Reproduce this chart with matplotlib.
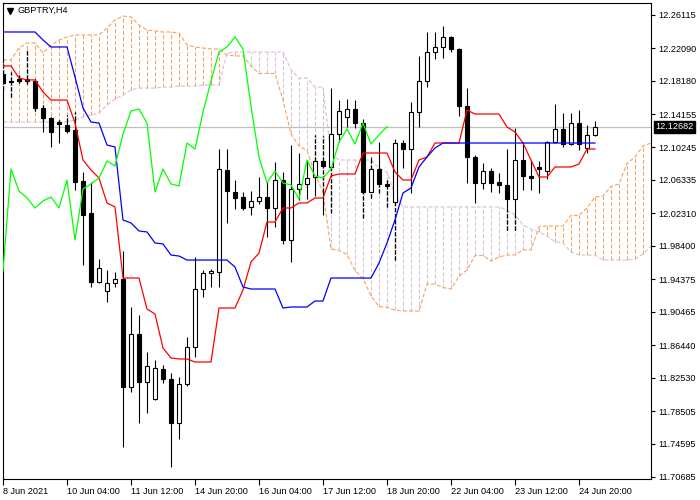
import matplotlib
matplotlib.use("Agg")
import matplotlib.pyplot as plt
import matplotlib.transforms as mtransforms
from matplotlib.patches import Rectangle

plt.rcParams["font.family"] = ["Liberation Sans", "DejaVu Sans"]
plt.rcParams["lines.scale_dashes"] = False

# ---- GBPTRY H4 candles (bar 0 = 8 Jun 2021 20:00) ----
opens = [12.1902, 12.1818, 12.1842, 12.1842, 12.1818, 12.1493, 12.1373, 12.1325, 12.1289, 12.1229,
         12.0617, 12.0233, 11.9404, 11.9296, 11.9392, 11.9440, 11.8144, 11.8780, 11.8204, 11.8000,
         11.8360, 11.8240, 11.7711, 11.8180, 11.8624, 11.9320, 11.9512, 11.9524, 12.0749, 12.0485,
         12.0425, 12.0305, 12.0377, 12.0425, 12.0293, 12.0629, 11.9909, 12.0521, 12.0581, 12.0665,
         12.0857, 12.0785, 12.1181, 12.1385, 12.1481, 12.1313, 12.0485, 12.0761, 12.0581, 12.0365,
         12.1073, 12.1001, 12.1445, 12.1818, 12.2166, 12.2226, 12.2346, 12.2202, 12.1517, 12.0905,
         12.0593, 12.0737, 12.0605, 12.0569, 12.0401, 12.0869, 12.0677, 12.0785, 12.0737, 12.1085,
         12.1241, 12.1061, 12.1313, 12.1013, 12.1169]
highs = [12.2034, 12.1926, 12.1914, 12.2190, 12.1842, 12.1529, 12.1385, 12.1349, 12.1409, 12.1445,
         12.0725, 12.0605, 11.9680, 11.9548, 11.9524, 11.9776, 11.9104, 11.9008, 11.8564, 11.8468,
         11.8408, 11.8312, 11.8264, 11.8744, 11.9704, 11.9548, 11.9560, 12.1001, 12.1001, 12.0629,
         12.0485, 12.0497, 12.0665, 12.0605, 12.0845, 12.0725, 12.1049, 12.0953, 12.0869, 12.1169,
         12.1157, 12.1733, 12.1589, 12.1601, 12.1589, 12.1361, 12.0905, 12.1085, 12.0653, 12.1121,
         12.1109, 12.1565, 12.2118, 12.2406, 12.2406, 12.2478, 12.2358, 12.2214, 12.1733, 12.0929,
         12.0833, 12.0773, 12.0713, 12.1001, 12.1253, 12.1085, 12.0857, 12.0857, 12.1097, 12.1541,
         12.1433, 12.1433, 12.1469, 12.1289, 12.1337]
lows = [12.1709, 12.1625, 12.1794, 12.1781, 12.1457, 12.1205, 12.1025, 12.1073, 12.1193, 12.0509,
        11.9608, 11.9344, 11.9392, 11.9164, 11.9344, 11.7423, 11.8084, 11.7711, 11.7832, 11.7988,
        11.8192, 11.7183, 11.7519, 11.8156, 11.8504, 11.9224, 11.9344, 11.9344, 12.0113, 12.0281,
        12.0269, 12.0209, 12.0341, 11.9945, 12.0065, 11.9861, 11.9644, 12.0389, 12.0401, 12.0437,
        12.0209, 12.0233, 12.1085, 12.1265, 12.1253, 12.0173, 12.0413, 12.0473, 12.0305, 11.9668,
        12.0773, 12.0473, 12.1265, 12.1745, 12.2082, 12.2094, 12.2166, 12.1397, 12.0593, 12.0353,
        12.0521, 12.0485, 12.0473, 12.0029, 12.0029, 12.0509, 12.0509, 12.0473, 12.0641, 12.1073,
        12.1025, 12.1049, 12.0989, 12.0953, 12.1157]
closes = [12.1794, 12.1806, 12.1818, 12.1818, 12.1493, 12.1373, 12.1205, 12.1301, 12.1217, 12.0605,
          12.0209, 11.9404, 11.9572, 11.9392, 11.9440, 11.8144, 11.8780, 11.8204, 11.8396, 11.8372,
          11.8240, 11.7711, 11.8180, 11.8624, 11.9320, 11.9512, 11.9536, 12.0761, 12.0497, 12.0413,
          12.0293, 12.0377, 12.0425, 12.0293, 12.0629, 11.9909, 12.0521, 12.0581, 12.0653, 12.0857,
          12.0797, 12.1181, 12.1457, 12.1481, 12.1313, 12.0485, 12.0761, 12.0581, 12.0557, 12.1073,
          12.1001, 12.1445, 12.1818, 12.2166, 12.2226, 12.2346, 12.2202, 12.1517, 12.0905, 12.0593,
          12.0737, 12.0593, 12.0569, 12.0401, 12.0869, 12.0677, 12.0653, 12.0761, 12.1085, 12.1241,
          12.1061, 12.1313, 12.1061, 12.1169, 12.12682]

# ---- Ichimoku lines ----
tenkan = [12.1998, 12.1998, 12.1854, 12.1830, 12.1830, 12.1685, 12.1589, 12.1589, 12.1589, 12.1313,
          12.0869, 12.0749, 12.0653, 12.0353, 12.0305, 11.9452, 11.9452, 11.9452, 11.9080, 11.9020,
          11.8612, 11.8492, 11.8480, 11.8480, 11.8444, 11.8444, 11.8444, 11.9092, 11.9092, 11.9092,
          11.9308, 11.9644, 11.9752, 12.0125, 12.0125, 12.0293, 12.0293, 12.0353, 12.0353, 12.0413,
          12.0413, 12.0677, 12.0701, 12.0701, 12.0701, 12.0953, 12.0953, 12.0953, 12.0953, 12.0725,
          12.0629, 12.0629, 12.0869, 12.0905, 12.1073, 12.1073, 12.1073, 12.1073, 12.1469, 12.1421,
          12.1421, 12.1421, 12.1421, 12.1265, 12.1205, 12.1073, 12.0869, 12.0665, 12.0665, 12.0785,
          12.0785, 12.0785, 12.0821, 12.1001, 12.1001]
kijun = [12.2406, 12.2406, 12.2406, 12.2406, 12.2406, 12.2310, 12.2226, 12.2226, 12.2226, 12.1866,
         12.1493, 12.1325, 12.1313, 12.1049, 12.1025, 12.0149, 12.0113, 12.0017, 12.0005, 11.9873,
         11.9861, 11.9728, 11.9716, 11.9668, 11.9668, 11.9668, 11.9668, 11.9668, 11.9668, 11.9584,
         11.9344, 11.9320, 11.9320, 11.9320, 11.9320, 11.9092, 11.9104, 11.9104, 11.9104, 11.9176,
         11.9176, 11.9452, 11.9452, 11.9452, 11.9452, 11.9452, 11.9452, 11.9632, 11.9873, 12.0149,
         12.0473, 12.0533, 12.0785, 12.0905, 12.1013, 12.1073, 12.1073, 12.1073, 12.1073, 12.1073,
         12.1073, 12.1073, 12.1073, 12.1073, 12.1073, 12.1073, 12.1073, 12.1073, 12.1073, 12.1073,
         12.1073, 12.1073, 12.1073, 12.1073, 12.1073]
# senkou spans, as displayed (already shifted forward), bars 0..81
span_a = [12.2070, 12.2070, 12.2214, 12.2274, 12.2274, 12.2154, 12.2250, 12.2310, 12.2346, 12.2370,
          12.2370, 12.2370, 12.2370, 12.2454, 12.2550, 12.2598, 12.2586, 12.2490, 12.2430, 12.2418,
          12.2406, 12.2406, 12.2394, 12.2250, 12.2226, 12.2214, 12.2202, 12.2202, 12.2130, 12.2118,
          12.2118, 12.1998, 12.1908, 12.1908, 12.1908, 12.1589, 12.1181, 12.1037, 12.0983, 12.0701,
          12.0485, 11.9801, 11.9783, 11.9735, 11.9542, 11.9446, 11.9236, 11.9110, 11.9098, 11.9068,
          11.9056, 11.9056, 11.9056, 11.9380, 11.9380, 11.9338, 11.9320, 11.9476, 11.9548, 11.9722,
          11.9722, 11.9656, 11.9704, 11.9728, 11.9728, 11.9789, 11.9789, 12.0065, 12.0077, 12.0077,
          12.0077, 12.0203, 12.0203, 12.0293, 12.0425, 12.0437, 12.0551, 12.0581, 12.0827, 12.0905,
          12.1037, 12.1073]
span_b = [12.1325, 12.1325, 12.1325, 12.1325, 12.1325, 12.1325, 12.1325, 12.1325, 12.1325, 12.1349,
          12.1385, 12.1409, 12.1433, 12.1529, 12.1601, 12.1649, 12.1709, 12.1733, 12.1733, 12.1733,
          12.1745, 12.1745, 12.1757, 12.1757, 12.1757, 12.1769, 12.1769, 12.1769, 12.2154, 12.2166,
          12.2166, 12.2166, 12.2166, 12.2166, 12.2166, 12.2166, 12.1950, 12.1854, 12.1854, 12.1745,
          12.1745, 12.0929, 12.0869, 12.0869, 12.0869, 12.0869, 12.0869, 12.0773, 12.0725, 12.0449,
          12.0305, 12.0305, 12.0305, 12.0305, 12.0305, 12.0305, 12.0305, 12.0305, 12.0305, 12.0305,
          12.0305, 12.0305, 12.0305, 12.0269, 12.0209, 12.0089, 12.0041, 12.0005, 11.9957, 11.9885,
          11.9873, 11.9764, 11.9728, 11.9728, 11.9728, 11.9668, 11.9668, 11.9668, 11.9668, 11.9680,
          11.9740, 11.9837]
CHIKOU_SHIFT = 26

last_price = 12.12682
ytick_vals = [12.26115, 12.22090, 12.18180, 12.14155, 12.10245, 12.06335, 12.02310, 11.98400,
              11.94375, 11.90465, 11.86440, 11.82530, 11.78505, 11.74595, 11.70685]
xtick_bars = [0, 8, 16, 24, 32, 40, 48, 56, 64, 72]
xtick_labels = ["8 Jun 2021", "10 Jun 04:00", "11 Jun 12:00", "14 Jun 20:00", "16 Jun 04:00",
                "17 Jun 12:00", "18 Jun 20:00", "22 Jun 04:00", "23 Jun 12:00", "24 Jun 20:00"]

SANDY = "#F4A460"
THISTLE = "#D8BFD8"
DOT = (0, (2.9, 1.45))


def main():
    fig = plt.figure(figsize=(7, 5), dpi=100)
    ax = fig.add_axes([2.5 / 700, 21 / 500, 648 / 700, 476.5 / 500])

    # kumo hatch + span lines
    for i in range(len(span_a)):
        a, b = span_a[i], span_b[i]
        col = SANDY if a >= b else THISTLE
        ax.vlines(i, min(a, b), max(a, b), colors=col, lw=0.75, linestyles=[DOT], zorder=1)
    ax.plot(range(len(span_a)), span_a, c=SANDY, lw=0.8, ls=DOT, zorder=1.5)
    ax.plot(range(len(span_b)), span_b, c=THISTLE, lw=0.8, ls=DOT, zorder=1.5)

    ax.axhline(last_price, c="#C0C0C0", lw=0.9, zorder=1.2)

    # candles
    for i, (o, h, l, c) in enumerate(zip(opens, highs, lows, closes)):
        ax.vlines(i, l, h, colors="black", lw=0.8, zorder=3)
        lo, hi = min(o, c), max(o, c)
        # wick parts inside the cloud come out dotted, as in the terminal
        clo, chi = min(span_a[i], span_b[i]), max(span_a[i], span_b[i])
        for w0, w1 in ((hi, h), (l, lo)):
            s0, s1 = max(w0, clo), min(w1, chi)
            if s1 > s0:
                ax.vlines(i, s0, s1, colors="black", lw=0.9, linestyles=[DOT],
                          gapcolor="white", zorder=3.2)
        if hi - lo < 0.0004:
            ax.hlines((o + c) / 2, i - 0.3, i + 0.3, colors="black", lw=1.6, zorder=3.5)
            continue
        ax.add_patch(Rectangle((i - 0.26, lo), 0.52, hi - lo,
                               fc="white" if c > o else "black", ec="black", lw=0.8, zorder=3.5))

    ax.plot(range(len(tenkan)), tenkan, c="#FF0000", lw=0.9, zorder=4)
    ax.plot(range(len(kijun)), kijun, c="#0000FF", lw=0.9, zorder=4)
    chikou = closes[CHIKOU_SHIFT:]
    ax.plot(range(len(chikou)), chikou, c="#00FF00", lw=0.9, zorder=4)

    ax.set_xlim(-0.0625, 80.94)
    ax.set_ylim(11.7039, 12.2760)

    ax.set_xticks(xtick_bars)
    ax.set_xticklabels(xtick_labels, ha="left")
    off = mtransforms.ScaledTranslation(0.02, 0, fig.dpi_scale_trans)
    for lab in ax.get_xticklabels():
        lab.set_transform(lab.get_transform() + off)
    ax.yaxis.tick_right()
    ax.set_yticks(ytick_vals)
    ax.set_yticklabels([f"{v:.5f}" for v in ytick_vals])
    ax.tick_params(axis="x", direction="out", length=4, width=0.8, pad=1.5, labelsize=6.6)
    ax.tick_params(axis="y", direction="out", length=3, width=0.8, pad=2.5, labelsize=6.6)
    for sp in ax.spines.values():
        sp.set_linewidth(0.8)
        sp.set_color("black")

    ax.annotate(f"{last_price:.5f}", xy=(1, last_price), xycoords=("axes fraction", "data"),
                xytext=(3.2, 0), textcoords="offset points", ha="left", va="center",
                fontsize=6.6, color="white",
                bbox=dict(boxstyle="square,pad=0.15", fc="black", ec="black"), zorder=10)

    ax.plot([9.5 / 700], [1 - 10.5 / 500], marker="v", ms=4.2, c="black",
            transform=fig.transFigure, clip_on=False)
    fig.text(18 / 700, 1 - 10.7 / 500, "GBPTRY,H4", fontsize=6.6, va="center", ha="left")

    fig.savefig("out.png", dpi=100, facecolor="white")


if __name__ == "__main__":
    main()
